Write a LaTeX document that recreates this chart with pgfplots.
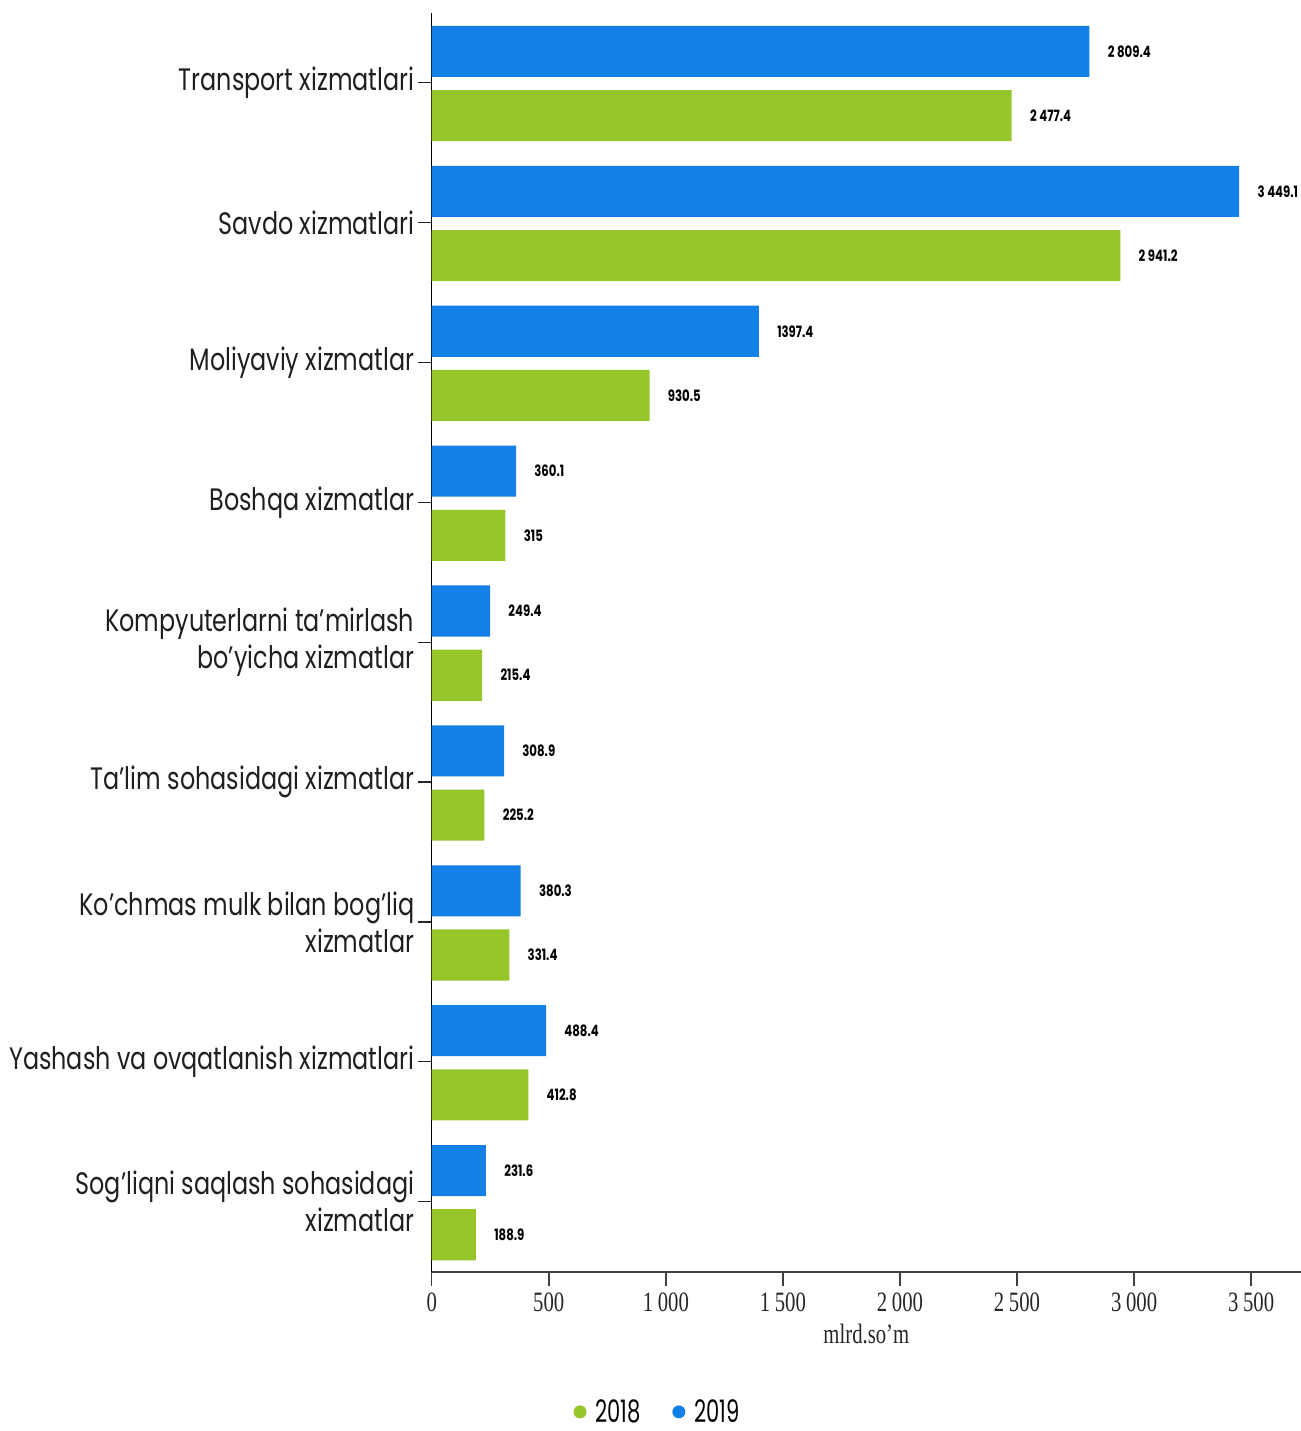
\documentclass[border=0pt]{standalone}
\usepackage{fontspec}
\usepackage{pgfplots}
\pgfplotsset{compat=1.18}
\setmainfont{Poppins}
\newfontfamily\catfont[FakeStretch=0.77]{Poppins}
\newfontfamily\valfont[FakeStretch=0.75]{Poppins}
\newfontfamily\tickfont[FakeStretch=0.74]{Liberation Serif}
\newfontfamily\legfont[FakeStretch=0.68]{Poppins}
\definecolor{c19}{RGB}{19,128,232}
\definecolor{c18}{RGB}{150,198,42}
\begin{document}
\begin{tikzpicture}
\path[use as bounding box] (0,0) rectangle (650.5pt,715.5pt);
\begin{axis}[
  at={(215.85pt,79.65pt)}, anchor=south west,
  scale only axis, width=434.65pt, height=629.5pt,
  xbar, bar width=0.365,
  xmin=0, xmax=3713, ymin=-0.5, ymax=8.5,
  clip=false,
  axis x line*=bottom, axis y line*=left,
  x axis line style={draw=black!75, line width=1pt},
  y axis line style={draw=black, line width=0.8pt},
  tick align=outside, major tick length=7pt,
  xtick={0,500,1000,1500,2000,2500,3000,3500},
  xticklabels={0,500,1\,000,1\,500,2\,000,2\,500,3\,000,3\,500},
  xtick style={draw=black!75, line width=0.8pt},
  ytick={0,1,2,3,4,5,6,7,8},
  ytick style={draw=black!85, line width=0.6pt},
  yticklabels={{Sog’liqni saqlash sohasidagi\\xizmatlar},
    {Yashash va ovqatlanish xizmatlari},
    {Ko’chmas mulk bilan bog’liq\\xizmatlar},
    {Ta’lim sohasidagi xizmatlar},
    {Kompyuterlarni ta’mirlash\\bo’yicha xizmatlar},
    {Boshqa xizmatlar},
    {Moliyaviy xizmatlar},
    {Savdo xizmatlari},
    {Transport xizmatlari}},
  xticklabel style={font=\tickfont\fontsize{14}{14}\selectfont, text=black!85},
  yticklabel style={font=\catfont\fontsize{15.5}{18.5}\selectfont, align=right, text=black!88, inner sep=0pt, xshift=-1.5pt},
  xlabel={mlrd.so’m},
  xlabel style={font=\tickfont\fontsize{14}{14}\selectfont, text=black!85, at={(axis description cs:0.5,0)}, anchor=base, yshift=-35.7pt},
  point meta=explicit symbolic,
  nodes near coords,
  nodes near coords style={font=\valfont\bfseries\fontsize{7.8}{7.8}\selectfont, text=black, anchor=west, inner sep=0pt, xshift=9pt},
  legend style={at={(axis description cs:0.2586,-0.1107)}, anchor=center, draw=none, fill=none,
    font=\legfont\fontsize{15.5}{15.5}\selectfont, inner sep=0pt, nodes={inner sep=0pt, text depth=0pt},
    /tikz/every even column/.append style={column sep=15.85pt}},
  legend columns=2,
]
\addplot[fill=c18, draw=none, bar shift=-0.236,
  legend image code/.code={\fill[c18] (3.25pt,-0.4pt) circle (3.25pt); \path (10.85pt,0pt);}]
  coordinates {
  (188.9,0) [188.9]
  (412.8,1) [412.8]
  (331.4,2) [331.4]
  (225.2,3) [225.2]
  (215.4,4) [215.4]
  (315,5) [315]
  (930.5,6) [930.5]
  (2941.2,7) [2\,941.2]
  (2477.4,8) [2\,477.4]
  };
\addlegendentry{2018}
\addplot[fill=c19, draw=none, bar shift=0.223,
  legend image code/.code={\fill[c19] (3.25pt,-0.4pt) circle (3.25pt); \path (10.85pt,0pt);}]
  coordinates {
  (231.6,0) [231.6]
  (488.4,1) [488.4]
  (380.3,2) [380.3]
  (308.9,3) [308.9]
  (249.4,4) [249.4]
  (360.1,5) [360.1]
  (1397.4,6) [1397.4]
  (3449.1,7) [3\,449.1]
  (2809.4,8) [2\,809.4]
  };
\addlegendentry{2019}
\end{axis}
\end{tikzpicture}
\end{document}
